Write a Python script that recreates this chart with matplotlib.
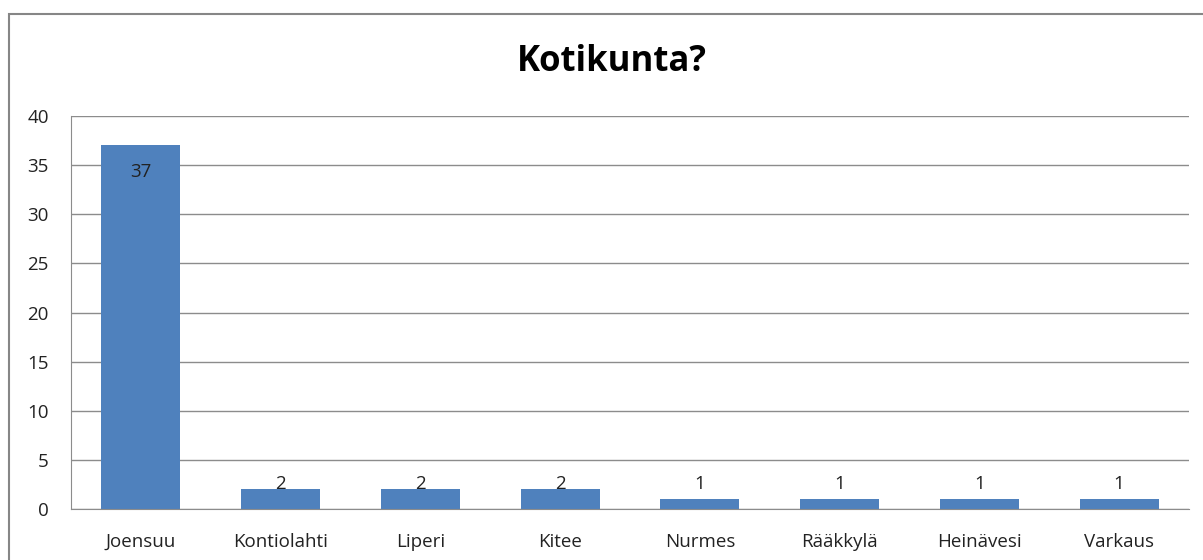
import matplotlib.pyplot as plt
from matplotlib.patches import Rectangle

kunnat = ["Joensuu", "Kontiolahti", "Liperi", "Kitee", "Nurmes", "Rääkkylä", "Heinävesi", "Varkaus"]
vastaukset = [37, 2, 2, 2, 1, 1, 1, 1]

plt.rcParams["font.family"] = ["Open Sans", "DejaVu Sans"]

fig = plt.figure(figsize=(12.03, 5.6), dpi=100)
fig.patches.append(Rectangle((9 / 1203, -0.1), 1.2, 1 - 14 / 560 + 0.1, transform=fig.transFigure,
                             fill=False, edgecolor="#868686", linewidth=1.5))

ax = fig.add_axes([71 / 1203, 1 - 509 / 560, (1189 - 71) / 1203, (509 - 116) / 560])
x = range(len(kunnat))
palkit = ax.bar(x, vastaukset, width=0.565, color="#4F81BD", zorder=2)

for xi, v in zip(x, vastaukset):
    if v > 10:
        ax.annotate(str(v), (xi, v), xytext=(0, -19), textcoords="offset points",
                    ha="center", va="center", fontsize=13.5, color="#222222")
    else:
        ax.annotate(str(v), (xi, 2.5), ha="center", va="center", fontsize=13.5, color="#222222")

ax.set_xlim(-0.5, len(kunnat) - 0.5)
ax.set_ylim(0, 40)
ax.set_yticks(range(0, 41, 5))
ax.set_xticks(list(x))
ax.set_xticklabels(kunnat)
ax.tick_params(axis="both", length=0, labelsize=13.5, colors="#222222")
ax.tick_params(axis="x", pad=17)
ax.tick_params(axis="y", pad=16)
ax.yaxis.grid(True, color="#8c8c8c", linewidth=1, zorder=0)
for s in ["top", "right"]:
    ax.spines[s].set_visible(False)
for s in ["left", "bottom"]:
    ax.spines[s].set_color("#8c8c8c")

fig.text(612 / 1203, 1 - 62 / 560, "Kotikunta?", ha="center", va="center",
         fontsize=25, fontweight="bold", color="black")

fig.savefig("out.png", dpi=100)
